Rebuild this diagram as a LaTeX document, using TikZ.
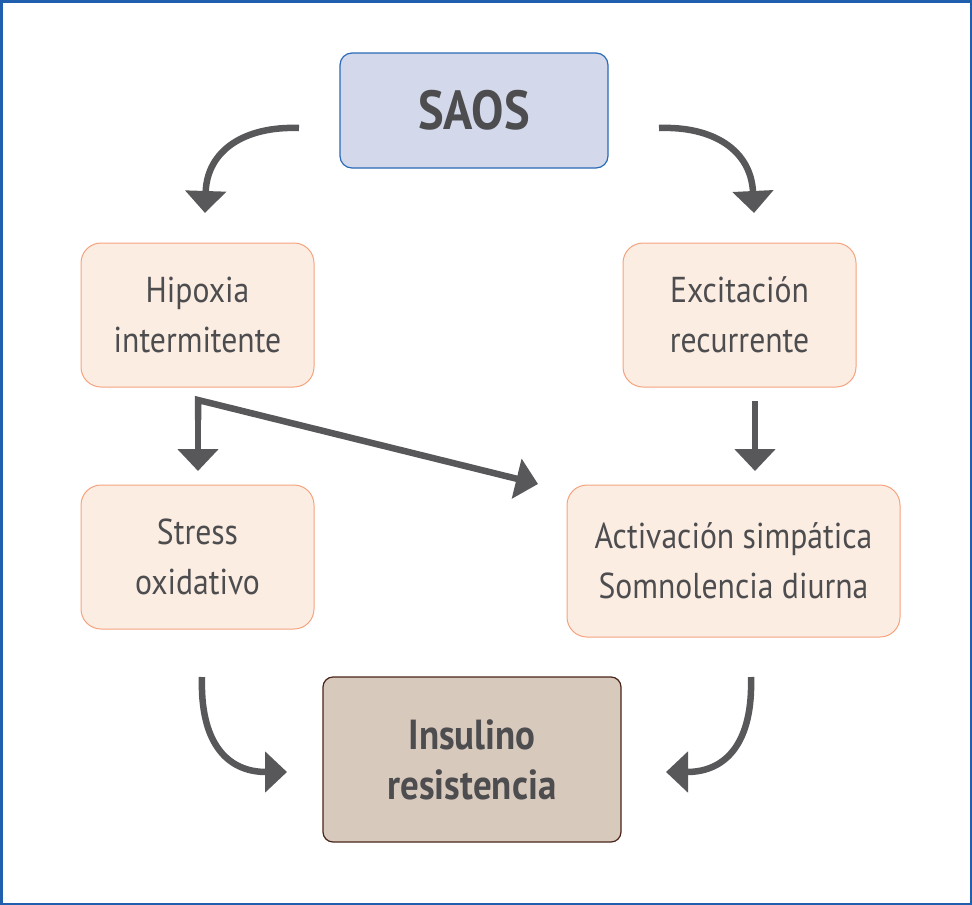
\documentclass[tikz,border=0pt]{standalone}
\usepackage{fontspec}
\setmainfont{PT Sans}[FakeStretch=0.88]
\usetikzlibrary{arrows.meta}
\definecolor{framebl}{HTML}{1F5FAE}
\definecolor{saosfill}{HTML}{D3D8EB}
\definecolor{saosdraw}{HTML}{2A6AB7}
\definecolor{peachfill}{HTML}{FCEDE3}
\definecolor{peachdraw}{HTML}{F5A37E}
\definecolor{insfill}{HTML}{D8C9BD}
\definecolor{insdraw}{HTML}{4A2418}
\definecolor{txtgray}{HTML}{4D4D4F}
\definecolor{arrgray}{HTML}{58585A}
\tikzset{
  box/.style={draw=peachdraw, fill=peachfill, line width=1pt, rounded corners=20pt,
    text=txtgray, align=center, inner sep=0pt, font=\fontsize{36}{50}\selectfont},
  saosbox/.style={draw=saosdraw, fill=saosfill, line width=1.2pt, rounded corners=12pt,
    text=txtgray, align=center, inner sep=0pt, font=\bfseries\fontsize{55}{60}\selectfont},
  insbox/.style={draw=insdraw, fill=insfill, line width=1.2pt, rounded corners=10pt,
    text=txtgray, align=center, inner sep=0pt, font=\bfseries\fontsize{42}{50}\selectfont},
  arr/.style={draw=arrgray, line width=6.5pt, -{Triangle[width=40pt,length=22pt]}},
}
\begin{document}
\begin{tikzpicture}[x=1pt,y=-1pt]
\useasboundingbox (0,0) rectangle (972,905);
\draw[framebl, line width=2.5pt] (1.25,1.25) rectangle (970.75,903.75);
\node[saosbox, minimum width=268pt, minimum height=115pt] (saos) at (474,110.5) {SAOS};
\node[box, minimum width=233pt, minimum height=144pt] (hip) at (197.5,315) {Hipoxia\\intermitente};
\node[box, minimum width=233pt, minimum height=144pt] (exc) at (739.5,315) {Excitación\\recurrente};
\node[box, minimum width=233pt, minimum height=144pt] (str) at (197.5,557) {Stress\\oxidativo};
\node[box, minimum width=333pt, minimum height=152pt] (act) at (733.5,561) {Activación simpática\\Somnolencia diurna};
\node[insbox, minimum width=298pt, minimum height=165pt] (ins) at (472,759.5) {Insulino\\resistencia};
\coordinate (tlS) at (299,128);
\coordinate (tlE) at (205,213);
\coordinate (trS) at (659,128);
\coordinate (trE) at (754,213);
\coordinate (hC) at (198,400);
\coordinate (hM) at (198,420);
\coordinate (hE) at (198,471);
\coordinate (dE) at (538,484);
\coordinate (eS) at (755,401);
\coordinate (eE) at (755,471);
\coordinate (blS) at (202,677);
\coordinate (blE) at (287,772);
\coordinate (brS) at (751,677);
\coordinate (brE) at (666,772);
\draw[arr] (tlS) .. controls (245,126) and (207,150) .. (tlE);
\draw[arr] (trS) .. controls (713,126) and (751,150) .. (trE);
\draw[arr] (hC) -- (hE);
\draw[arr, line join=miter] (hM) -- (hC) -- (dE);
\draw[arr] (eS) -- (eE);
\draw[arr] (blS) .. controls (200,740) and (225,772) .. (blE);
\draw[arr] (brS) .. controls (753,740) and (728,772) .. (brE);
\end{tikzpicture}
\end{document}
